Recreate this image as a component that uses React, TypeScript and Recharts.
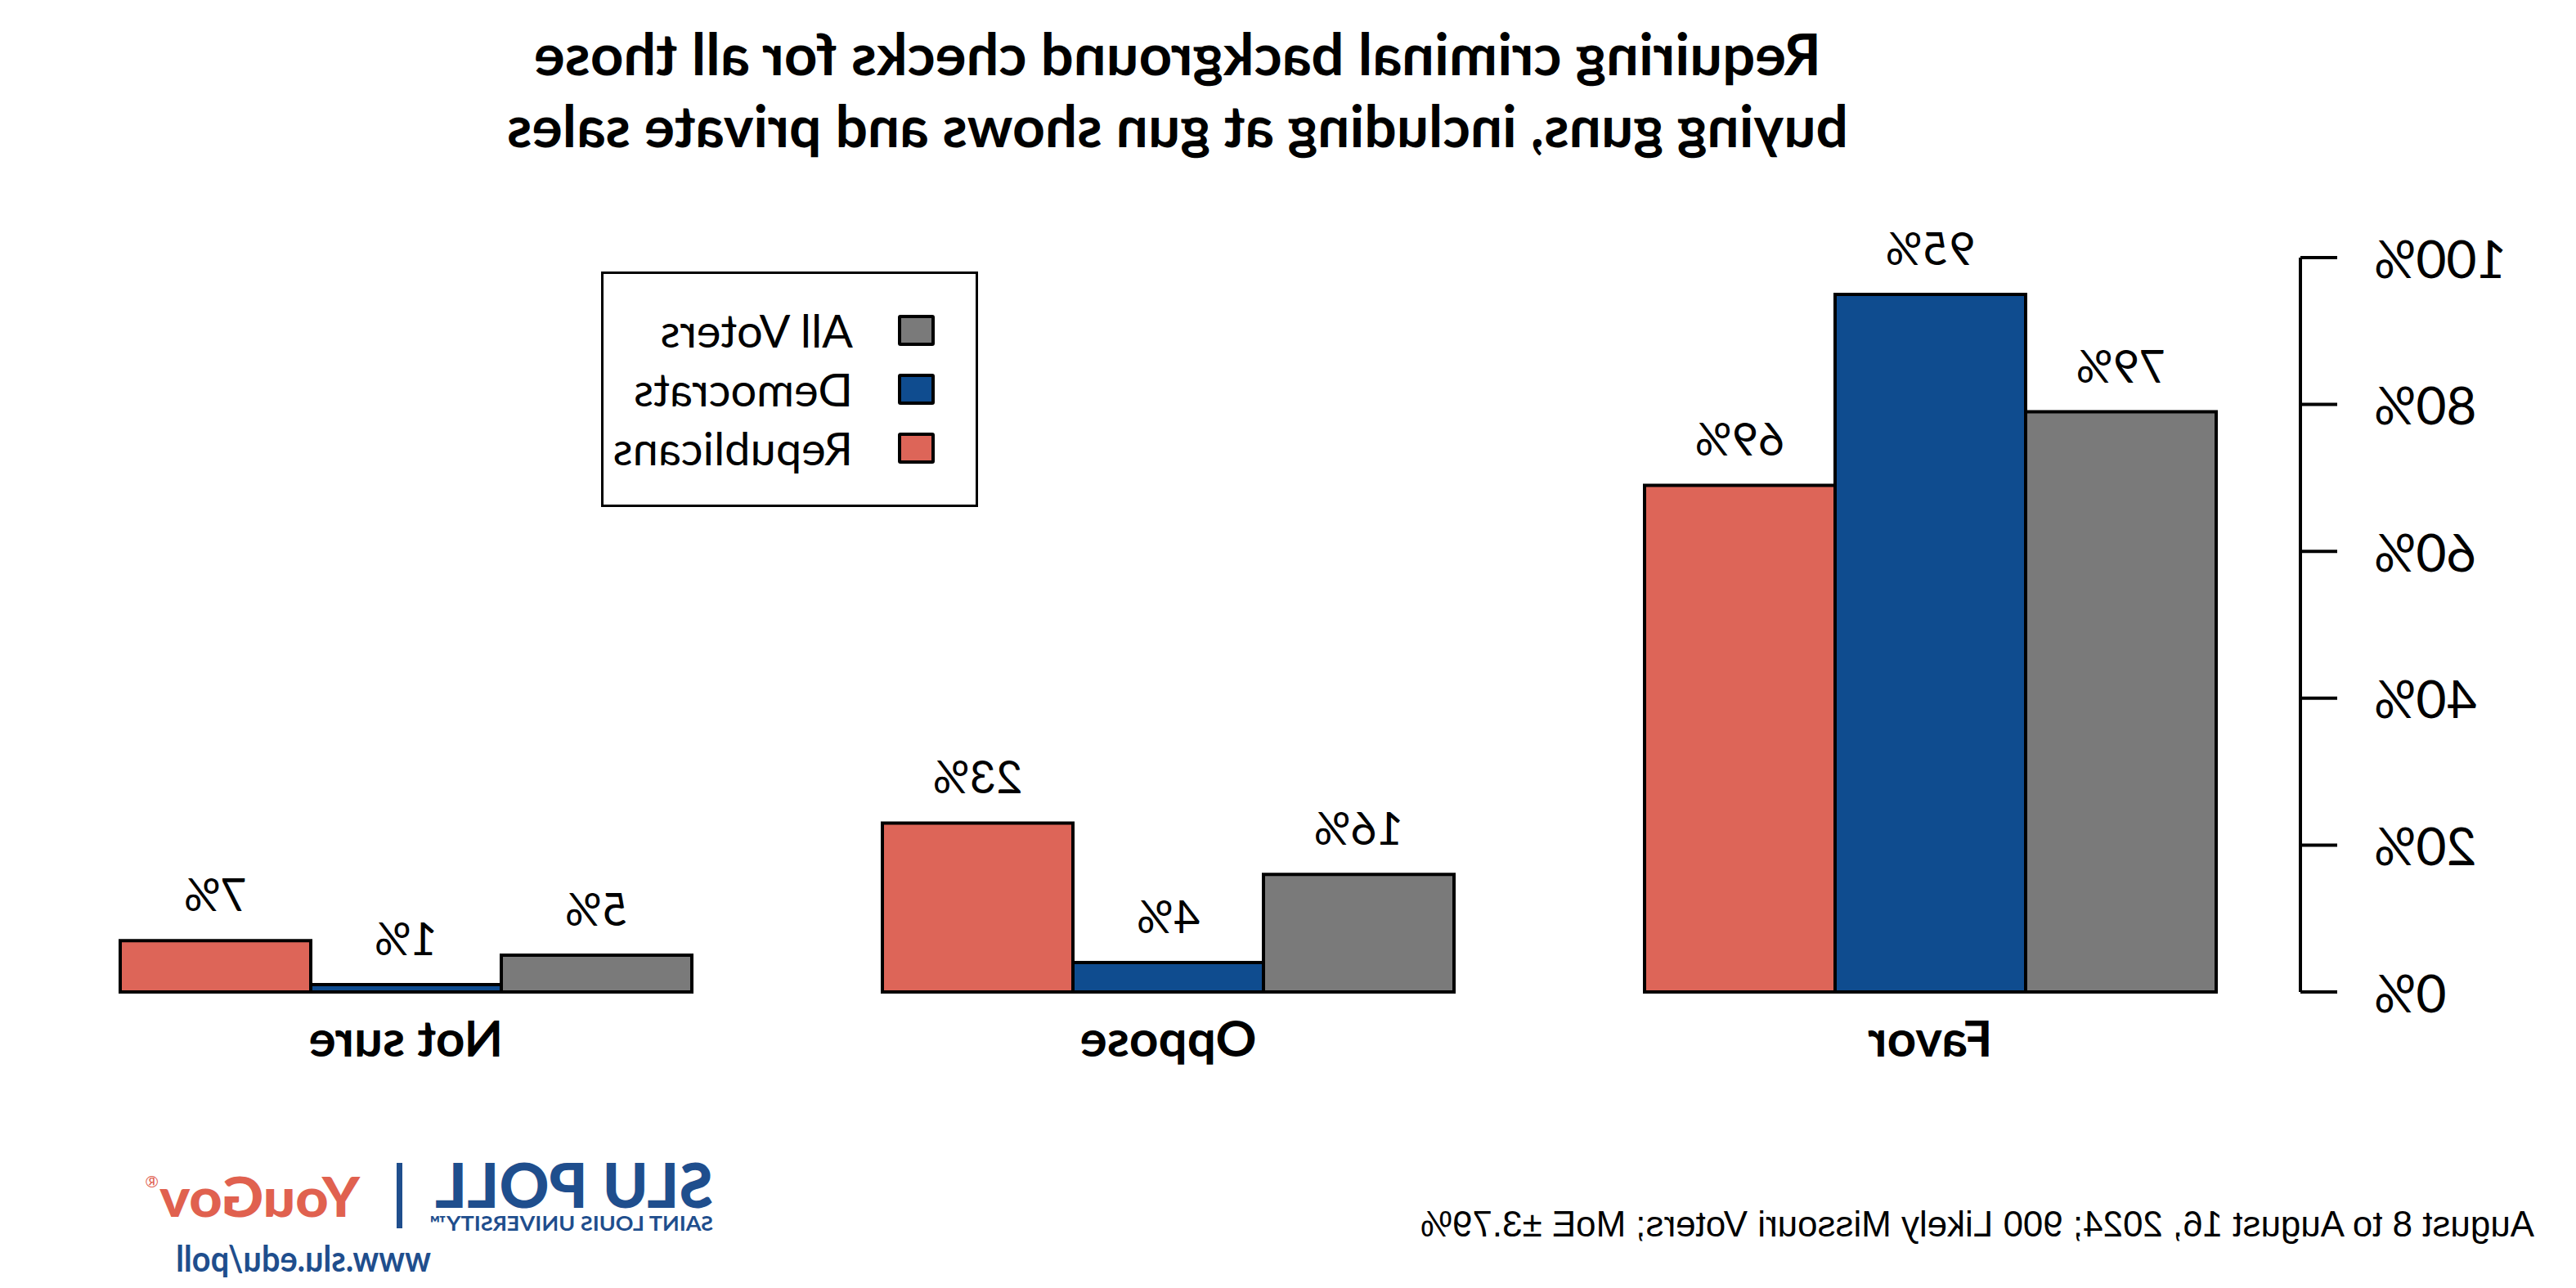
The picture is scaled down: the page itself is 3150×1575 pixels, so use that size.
import React from 'react';
import { BarChart, Bar, XAxis, YAxis, LabelList, Legend } from 'recharts';

const categories = ['Favor', 'Oppose', 'Not sure'];
const allVoters = [79, 16, 5];
const democrats = [95, 4, 1];
const republicans = [69, 23, 7];
const yTicks = [0, 20, 40, 60, 80, 100];
const seriesNames = ['All Voters', 'Democrats', 'Republicans'];
const seriesKeys = ['all', 'dem', 'rep'];
const seriesColors = ['#7A7A7A', '#0F4C8F', '#DD6558'];
const titleLines = [
  'Requiring criminal background checks for all those',
  'buying guns, including at gun shows and private sales',
];
const footnote = 'August 8 to August 16, 2024; 900 Likely Missouri Voters; MoE ±3.79%';

const data = categories.map((c, i) => ({
  category: c,
  all: allVoters[i],
  dem: democrats[i],
  rep: republicans[i],
}));

const W = 3150;
const H = 1575;
const AXIS_SHIFT = 13.5;
const LABEL_FONT = 'Lato, "DejaVu Sans", sans-serif';
const SLU_BLUE = '#1F4E8D';

const YTick = (props: any) => {
  const { x, y, payload } = props;
  const ax = x + AXIS_SHIFT;
  return (
    <g>
      <line x1={ax} x2={ax - 45} y1={y} y2={y} stroke="#000" strokeWidth={4} />
      <text
        x={ax - 90}
        y={y}
        textAnchor="end"
        dominantBaseline="central"
        fontFamily={LABEL_FONT}
        fontSize={64}
        fill="#000"
      >
        {payload.value}%
      </text>
    </g>
  );
};

const XTick = (props: any) => {
  const { x, y, payload } = props;
  return (
    <text
      x={x}
      y={y}
      dy={79}
      textAnchor="middle"
      fontFamily={LABEL_FONT}
      fontWeight={700}
      fontSize={62}
      fill="#000"
    >
      {payload.value}
    </text>
  );
};

const BarLabel = (props: any) => {
  const { x, y, width, value } = props;
  return (
    <text
      x={x + width / 2}
      y={y - 36}
      textAnchor="middle"
      fontFamily={LABEL_FONT}
      fontSize={56}
      fill="#000"
    >
      {value}%
    </text>
  );
};

const LegendBox = (props: any) => {
  const payload: any[] = props.payload || [];
  return (
    <div
      style={{
        width: '100%',
        height: '100%',
        boxSizing: 'border-box',
        border: '3px solid #000',
        position: 'relative',
        background: '#fff',
      }}
    >
      {seriesNames.map((name, i) => {
        const item = payload.find((p) => p.value === name);
        const color = item ? item.color : seriesColors[i];
        return (
          <div
            key={name}
            style={{
              position: 'absolute',
              left: 50,
              top: 33 + i * 72,
              height: 72,
              display: 'flex',
              alignItems: 'center',
            }}
          >
            <div
              style={{
                width: 45,
                height: 38,
                boxSizing: 'border-box',
                border: '4px solid #000',
                borderRadius: 3,
                background: color,
              }}
            />
            <span
              style={{
                marginLeft: 55,
                fontFamily: LABEL_FONT,
                fontSize: 56,
                color: '#000',
                whiteSpace: 'nowrap',
                lineHeight: 1,
              }}
            >
              {name}
            </span>
          </div>
        );
      })}
    </div>
  );
};

export default function App() {
  return (
    <div
      style={{
        position: 'absolute',
        left: 0,
        top: 0,
        width: W,
        height: H,
        background: '#fff',
        transform: 'scaleX(-1)',
        transformOrigin: 'center center',
        overflow: 'hidden',
      }}
    >
      <BarChart
        width={W}
        height={H}
        data={data}
        margin={{ top: 315, right: 30.5, bottom: 262, left: 123.5 }}
        barCategoryGap="12.5%"
        barGap={0}
      >
        <XAxis
          dataKey="category"
          axisLine={false}
          tickLine={false}
          tickSize={0}
          tickMargin={0}
          height={100}
          tick={<XTick />}
          interval={0}
        />
        <YAxis
          width={200}
          domain={[0, 100]}
          ticks={yTicks}
          interval={0}
          tickSize={0}
          tickMargin={0}
          tickLine={false}
          axisLine={{ stroke: '#000', strokeWidth: 4, transform: `translate(${AXIS_SHIFT} 0)` }}
          tick={<YTick />}
        />
        <Legend
          layout="vertical"
          align="center"
          verticalAlign="middle"
          content={<LegendBox />}
          wrapperStyle={{ position: 'absolute', left: 1954, top: 332, width: 461, height: 288 }}
        />
        {seriesKeys.map((k, i) => (
          <Bar
            key={k}
            dataKey={k}
            name={seriesNames[i]}
            fill={seriesColors[i]}
            stroke="#000"
            strokeWidth={4}
            isAnimationActive={false}
          >
            <LabelList dataKey={k} content={<BarLabel />} />
          </Bar>
        ))}
      </BarChart>
      <svg
        width={W}
        height={H}
        style={{ position: 'absolute', left: 0, top: 0, pointerEvents: 'none' }}
      >
        <text
          x={1710}
          y={92}
          textAnchor="middle"
          fontFamily={LABEL_FONT}
          fontWeight={700}
          fontSize={70}
          textLength={1574}
          lengthAdjust="spacingAndGlyphs"
        >
          {titleLines[0]}
        </text>
        <text
          x={1710}
          y={180}
          textAnchor="middle"
          fontFamily={LABEL_FONT}
          fontWeight={700}
          fontSize={70}
          textLength={1640}
          lengthAdjust="spacingAndGlyphs"
        >
          {titleLines[1]}
        </text>
        <text
          x={51}
          y={1512}
          fontFamily='"Liberation Sans", Arial, sans-serif'
          fontSize={44}
          textLength={1362}
          lengthAdjust="spacingAndGlyphs"
        >
          {footnote}
        </text>
        <text
          x={2278}
          y={1477}
          fontFamily={LABEL_FONT}
          fontWeight={900}
          fontSize={76}
          fill={SLU_BLUE}
          textLength={340}
          lengthAdjust="spacingAndGlyphs"
        >
          SLU POLL
        </text>
        <text
          x={2278}
          y={1505}
          fontFamily={LABEL_FONT}
          fontWeight={700}
          fontSize={25}
          fill={SLU_BLUE}
          textLength={347}
          lengthAdjust="spacingAndGlyphs"
        >
          SAINT LOUIS UNIVERSITY™
        </text>
        <rect x={2658} y={1422} width={7} height={80} fill={SLU_BLUE} />
        <text
          x={2710}
          y={1488}
          fontFamily={LABEL_FONT}
          fontWeight={900}
          fontSize={66}
          fill="#E0614F"
          textLength={245}
          lengthAdjust="spacingAndGlyphs"
        >
          YouGov
        </text>
        <text x={2956} y={1452} fontFamily={LABEL_FONT} fontSize={20} fill="#E0614F">
          ®
        </text>
        <text
          x={2623}
          y={1555}
          fontFamily={LABEL_FONT}
          fontWeight={700}
          fontSize={44}
          fill={SLU_BLUE}
          textLength={312}
          lengthAdjust="spacingAndGlyphs"
        >
          www.slu.edu/poll
        </text>
      </svg>
    </div>
  );
}
